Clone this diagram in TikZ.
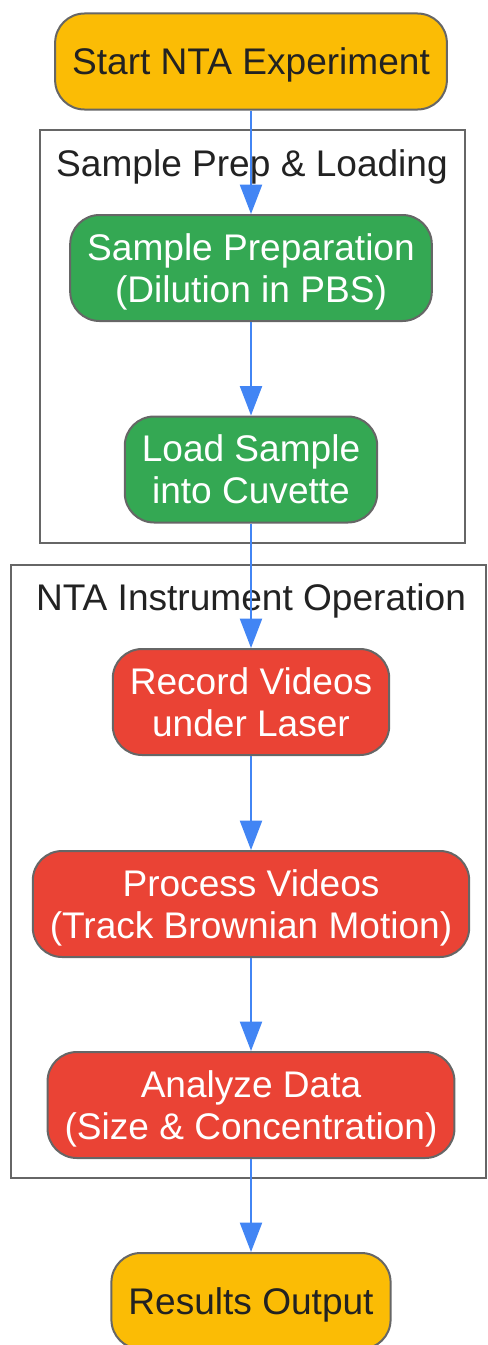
\documentclass[tikz,border=0pt]{standalone}
\usepackage{fontspec}
\setmainfont{Liberation Sans}
\usetikzlibrary{arrows.meta}
\definecolor{startyellow}{HTML}{FBBC05}
\definecolor{prepgreen}{HTML}{34A853}
\definecolor{instred}{HTML}{EA4335}
\definecolor{flowblue}{HTML}{4285F4}
\definecolor{edgegray}{HTML}{666666}
\definecolor{textdark}{HTML}{222222}
\tikzset{every picture/.style={line width=1.5pt}}
\tikzset{
  stepnode/.style={draw=edgegray, line width=1.5pt, rounded corners=22pt, align=center,
    minimum height=79.5pt, inner xsep=12.75pt, inner ysep=4pt,
    text height=57.5pt, text depth=6pt, font=\fontsize{27.8}{31.5}\selectfont},
  endnode/.style={stepnode, minimum height=72pt, text height=26pt, fill=startyellow, text=textdark},
  prepnode/.style={stepnode, fill=prepgreen, text=white},
  instnode/.style={stepnode, fill=instred, text=white},
  clusterbox/.style={draw=edgegray, line width=1.5pt},
  clustertitle/.style={text=textdark, font=\fontsize{27.8}{31.5}\selectfont},
  flow/.style={draw=flowblue, line width=1.5pt, -{Triangle[length=22pt,width=16.5pt]}}
}

\begin{document}
\begin{tikzpicture}[x=0.75pt,y=0.75pt,yscale=-1,xscale=1]
\useasboundingbox (0,0) rectangle (487,1345);

%Shape: Rectangle [cluster prep]
\draw [clusterbox] (40,130) rectangle (465,543);
%Shape: Rectangle [cluster instrument]
\draw [clusterbox] (11,565) rectangle (486,1178);

% Text Node
\node [clustertitle] (preptitle) at (252,167) {Sample Prep \& Loading};
% Text Node
\node [clustertitle] (insttitle) at (251,601) {NTA Instrument Operation};

% Step Nodes
\node [endnode] (start) at (251,61.5) {Start NTA Experiment};
\node [prepnode] (prep) at (251,268) {Sample Preparation\\(Dilution in PBS)};
\node [prepnode] (load) at (251,469.5) {Load Sample\\into Cuvette};
\node [instnode] (record) at (251,702) {Record Videos\\under Laser};
\node [instnode] (process) at (251,904) {Process Videos\\(Track Brownian Motion)};
\node [instnode] (analyze) at (251,1105) {Analyze Data\\(Size \& Concentration)};
\node [endnode] (results) at (251,1301) {Results Output};

% Arrows
\draw [flow] (start) -- (prep);
\draw [flow] (prep) -- (load);
\draw [flow] (load) -- (record);
\draw [flow] (record) -- (process);
\draw [flow] (process) -- (analyze);
\draw [flow] (analyze) -- (results);

\end{tikzpicture}
\end{document}
